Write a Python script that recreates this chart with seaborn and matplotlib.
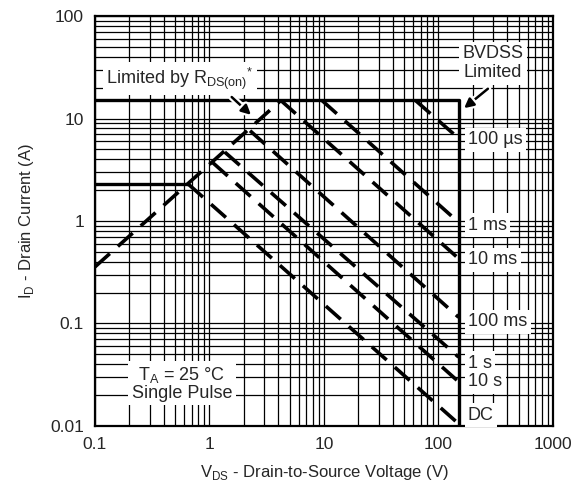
import numpy as np
import pandas as pd
import matplotlib
matplotlib.use("Agg")
import matplotlib.pyplot as plt
import matplotlib.patheffects as pe
from matplotlib.ticker import FuncFormatter, NullFormatter, LogLocator
import seaborn as sns

# Safe operating area data
# boundary: IDM limit at 15 A, then BVDSS limit at 150 V
bound_v = [0.1, 150, 150]
bound_i = [15, 15, 0.01]

# DC continuous current limit
dc_lim_v = [0.1, 0.65]
dc_lim_i = [2.3, 2.3]

# RDS(on) limit line
rds_v = [0.1, 4.2]
rds_i = [0.357, 15]

# pulse curves: start on the limit lines, end at BVDSS
pulse_names = ["100 µs", "1 ms", "10 ms", "100 ms", "1 s", "10 s", "DC"]
pulse_v_start = [63, 9.6, 4.2, 2.26, 1.36, 1.07, 0.65]
pulse_i_start = [15, 15, 15, 7.6, 4.7, 3.7, 2.3]
pulse_v_end = [150, 150, 150, 150, 150, 150, 150]
pulse_i_end = [6.4, 0.97, 0.43, 0.115, 0.047, 0.027, 0.0105]

# label positions on the right side (current values)
label_i = [6.17, 0.914, 0.417, 0.1035, 0.041, 0.027, 0.0128]
label_v = 181

rows = []
for n, v0, i0, v1, i1 in zip(pulse_names, pulse_v_start, pulse_i_start, pulse_v_end, pulse_i_end):
    rows.append({"curve": n, "V": v0, "I": i0})
    rows.append({"curve": n, "V": v1, "I": i1})
pulses = pd.DataFrame(rows)

sns.set_style("white")
plt.rcParams['font.family'] = ['Liberation Sans', 'DejaVu Sans']
plt.rcParams['mathtext.fontset'] = 'custom'
plt.rcParams['mathtext.rm'] = 'Liberation Sans'

fig = plt.figure(figsize=(5.74, 4.91), dpi=100)
ax = fig.add_axes([0.1655, 0.1324, 0.7979, 0.835])
ax.set_xscale('log')
ax.set_yscale('log')
ax.set_xlim(0.1, 1000)
ax.set_ylim(0.01, 100)

ax.xaxis.set_major_locator(LogLocator(base=10))
ax.yaxis.set_major_locator(LogLocator(base=10))
ax.xaxis.set_minor_locator(LogLocator(base=10, subs=np.arange(2, 10)))
ax.yaxis.set_minor_locator(LogLocator(base=10, subs=np.arange(2, 10)))
fmt = FuncFormatter(lambda x, p: '{:g}'.format(x))
ax.xaxis.set_major_formatter(fmt)
ax.yaxis.set_major_formatter(fmt)
ax.xaxis.set_minor_formatter(NullFormatter())
ax.yaxis.set_minor_formatter(NullFormatter())
ax.grid(True, which='both', color='black', linewidth=0.9)
ax.tick_params(which='both', length=0, labelsize=12.5, pad=8)
for s in ax.spines.values():
    s.set_color('black')
    s.set_linewidth(1.6)

# solid limit lines
sns.lineplot(x=bound_v, y=bound_i, sort=False, estimator=None, color='black',
             linewidth=2.4, ax=ax)
sns.lineplot(x=dc_lim_v, y=dc_lim_i, sort=False, estimator=None, color='black',
             linewidth=2.4, ax=ax)

# dashed lines
sns.lineplot(x=rds_v, y=rds_i, sort=False, estimator=None, color='black',
             linewidth=2.6, ax=ax)
ax.lines[-1].set_dashes((5.5, 3))
sns.lineplot(data=pulses, x='V', y='I', units='curve', estimator=None, sort=False,
             color='black', linewidth=2.6, ax=ax)
for ln in ax.lines[-len(pulse_names):]:
    ln.set_dashes((5.5, 3))

fs = 13
box = dict(facecolor='white', edgecolor='none', pad=2.5)
for n, yi in zip(pulse_names, label_i):
    ax.text(label_v, yi, n, fontsize=fs, ha='left', va='center', bbox=box)

ax.text(0.125, 24.5, r'Limited by R$_\mathregular{DS(on)}$$^\mathregular{*}$', fontsize=fs,
        ha='left', va='center', bbox=box)
arrow_fx = [pe.withStroke(linewidth=5, foreground='white')]
a1 = ax.annotate('', xy=(2.4, 10.4), xytext=(1.5, 16.9),
                 arrowprops=dict(arrowstyle='-|>', color='black', lw=1.8,
                                 mutation_scale=14))
a1.arrow_patch.set_path_effects(arrow_fx)

ax.text(300, 34.5, 'BVDSS\nLimited', fontsize=fs, ha='center', va='center',
        linespacing=1.15, bbox=box)
a2 = ax.annotate('', xy=(160, 12.1), xytext=(282, 20.3),
                 arrowprops=dict(arrowstyle='-|>', color='black', lw=1.8,
                                 mutation_scale=14))
a2.arrow_patch.set_path_effects(arrow_fx)

ax.text(0.575, 0.026, 'T$_\\mathregular{A}$ = 25 °C\nSingle Pulse', fontsize=fs,
        ha='center', va='center', linespacing=1.0, bbox=box)

ax.set_xlabel(r'V$_\mathregular{DS}$ - Drain-to-Source Voltage (V)', fontsize=12, labelpad=8)
ax.set_ylabel(r'I$_\mathregular{D}$ - Drain Current (A)', fontsize=12, labelpad=10)
if ax.get_legend() is not None:
    ax.get_legend().remove()

fig.savefig('out.png', dpi=100)
